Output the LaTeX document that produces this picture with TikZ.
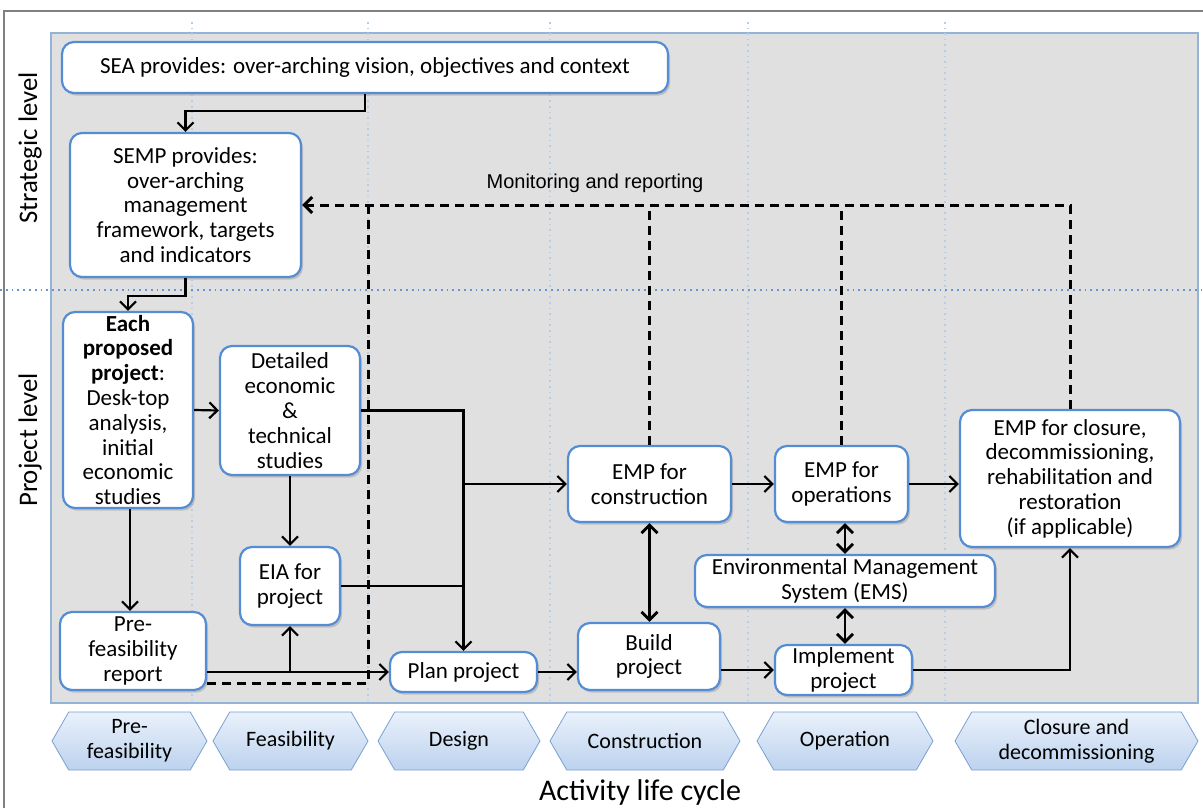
\documentclass[tikz,border=0pt]{standalone}
\usepackage{fontspec}
\setmainfont{Carlito}
\newfontfamily\arialfont{Liberation Sans}
\usetikzlibrary{arrows.meta,shapes.symbols,shadows}
\definecolor{boxblue}{RGB}{84,141,212}
\definecolor{panelgray}{RGB}{224,224,224}
\definecolor{panelline}{RGB}{149,179,215}
\definecolor{gridblue}{RGB}{185,205,229}
\definecolor{levelblue}{RGB}{100,150,210}
\definecolor{chevtop}{RGB}{234,241,251}
\definecolor{chevbot}{RGB}{188,210,238}
\definecolor{chevline}{RGB}{120,160,210}
\begin{document}
\begin{tikzpicture}[x=0.5pt, y=-0.5pt, >={Straight Barb[length=4pt,width=8pt]},
  font=\fontsize{11.5}{12.4}\selectfont,
  procbox/.style={draw=boxblue, line width=1.1pt, fill=white, rounded corners=6pt,
    align=center, inner xsep=1pt, inner ysep=0pt,
    drop shadow={opacity=0.35, shadow xshift=1pt, shadow yshift=-1.3pt}},
  conn/.style={->, line width=1.1pt},
  dconn/.style={<->, line width=1.4pt},
  mon/.style={line width=1.5pt, dash pattern=on 4.5pt off 3pt},
  phase/.style={shape=signal, signal to=east and west, signal pointer angle=120,
    draw=chevline, top color=chevtop, bottom color=chevbot, minimum height=29pt,
    inner xsep=1pt, inner ysep=1pt, align=center, font=\fontsize{11}{12.5}\selectfont},
  lanesep/.style={gridblue, line width=0.8pt, dotted}]
\useasboundingbox (0,0) rectangle (1203,808);
% frame and background panel
\draw[gray, line width=0.8pt] (4,808) -- (4,11) -- (1203,11);
\draw[panelline, fill=panelgray, line width=0.6pt] (51,33) rectangle (1198,703);
\foreach \x in {192,368,550,748,945}
  \draw[lanesep] (\x,22) -- (\x,703);
\draw[levelblue, line width=0.9pt, dotted] (0,290) -- (1203,290);
% level labels
\node[rotate=90, font=\fontsize{13.4}{15}\selectfont] (strat) at (30,148) {Strategic level};
\node[rotate=90, font=\fontsize{13.4}{15}\selectfont] (proj) at (30,440) {Project level};
% strategic level
\node[procbox, minimum width=303pt, minimum height=25.5pt] (sea) at (365,67.5)
  {SEA provides: over-arching vision, objectives and context};
\node[procbox, minimum width=115.5pt, minimum height=72pt] (semp) at (185.5,205)
  {SEMP provides:\\over-arching\\management\\framework, targets\\and indicators};
% project level
\node[procbox, minimum width=65pt, minimum height=98pt] (each) at (128,410)
  {\textbf{Each}\\\textbf{proposed}\\\textbf{project}:\\Desk-top\\analysis,\\initial\\economic\\studies};
\node[procbox, minimum width=70pt, minimum height=64.5pt] (detail) at (290,410.5)
  {Detailed\\economic\\\&\\technical\\studies};
\node[procbox, minimum width=50pt, minimum height=39pt] (eia) at (290,586)
  {EIA for\\project};
\node[procbox, minimum width=73pt, minimum height=39pt] (prefeas) at (133,651)
  {Pre-\\feasibility\\report};
\node[procbox, minimum width=73.5pt, minimum height=20pt] (plan) at (463.5,672)
  {Plan project};
\node[procbox, minimum width=81.5pt, minimum height=38pt] (empc) at (649.5,484)
  {EMP for\\construction};
\node[procbox, minimum width=71pt, minimum height=33.5pt] (build) at (649,656.5)
  {Build\\project};
\node[procbox, minimum width=66.5pt, minimum height=38pt] (empo) at (841.5,484)
  {EMP for\\operations};
\node[procbox, minimum width=150pt, minimum height=26pt] (ems) at (845,581)
  {Environmental Management\\System (EMS)};
\node[procbox, minimum width=68.5pt, minimum height=25pt] (impl) at (843.5,670)
  {Implement\\project};
\node[procbox, minimum width=110pt, minimum height=68.5pt] (empcl) at (1070,478.5)
  {EMP for closure,\\decommissioning,\\rehabilitation and\\restoration\\(if applicable)};
% solid flow
\draw[conn] (sea.south) -- ++(0,17) -| (semp.north);
\draw[conn] (semp.south) -- ++(0,18) -| (each.north);
\draw[conn] (each.east) -- (detail.west);
\draw[conn] (each.south -| 130,0) -- (prefeas.north -| 130,0);
\draw[conn] (detail.south) -- (eia.north);
\draw[conn] (detail.east) -| (plan.north);
\draw[conn] (plan.north |- empc.west) -- (empc.west);
\draw[line width=1.1pt] (eia.east) -- (eia.east -| plan.north);
\draw[conn] (prefeas.east |- plan.west) -- (plan.west);
\draw[conn] (eia.south |- plan.west) -- (eia.south);
\draw[conn] (plan.east) -- (plan.east -| build.west);
\draw[conn] (build.east |- impl.west) -- (impl.west);
\draw[conn] (impl.east) -| (empcl.south);
\draw[conn] (empc.east) -- (empo.west);
\draw[conn] (empo.east) -- (empo.east -| empcl.west);
\draw[dconn] (empc.south) -- (build.north -| empc.south);
\draw[dconn] (empo.south -| ems.north) -- (ems.north);
\draw[dconn] (ems.south) -- (impl.north -| ems.south);
% monitoring and reporting loop
\coordinate (mleft) at (368,205);
\coordinate (mbot) at (368,683);
\draw[mon, ->] (empcl.north) |- (semp.east);
\draw[mon] (empo.north) -- (empo.north |- semp.east);
\draw[mon] (empc.north) -- (empc.north |- semp.east);
\draw[mon] (mleft) -- (mbot) -- (mbot -| prefeas.east);
\node[font=\arialfont\fontsize{10}{12}\selectfont] (monlbl) at (595,183) {Monitoring and reporting};
% life cycle phases
\node[phase, minimum width=77.5pt] (ph1) at (129.5,741) {Pre-\\feasibility};
\node[phase, minimum width=77.5pt] (ph2) at (290.5,741) {Feasibility};
\node[phase, minimum width=81pt] (ph3) at (459,741) {Design};
\node[phase, minimum width=95pt] (ph4) at (645,741) {Construction};
\node[phase, minimum width=88pt] (ph5) at (845,741) {Operation};
\node[phase, minimum width=121.5pt] (ph6) at (1076.5,741) {Closure and\\decommissioning};
\node[font=\fontsize{15}{17}\selectfont] (cycle) at (640,792) {Activity life cycle};
\end{tikzpicture}
\end{document}
